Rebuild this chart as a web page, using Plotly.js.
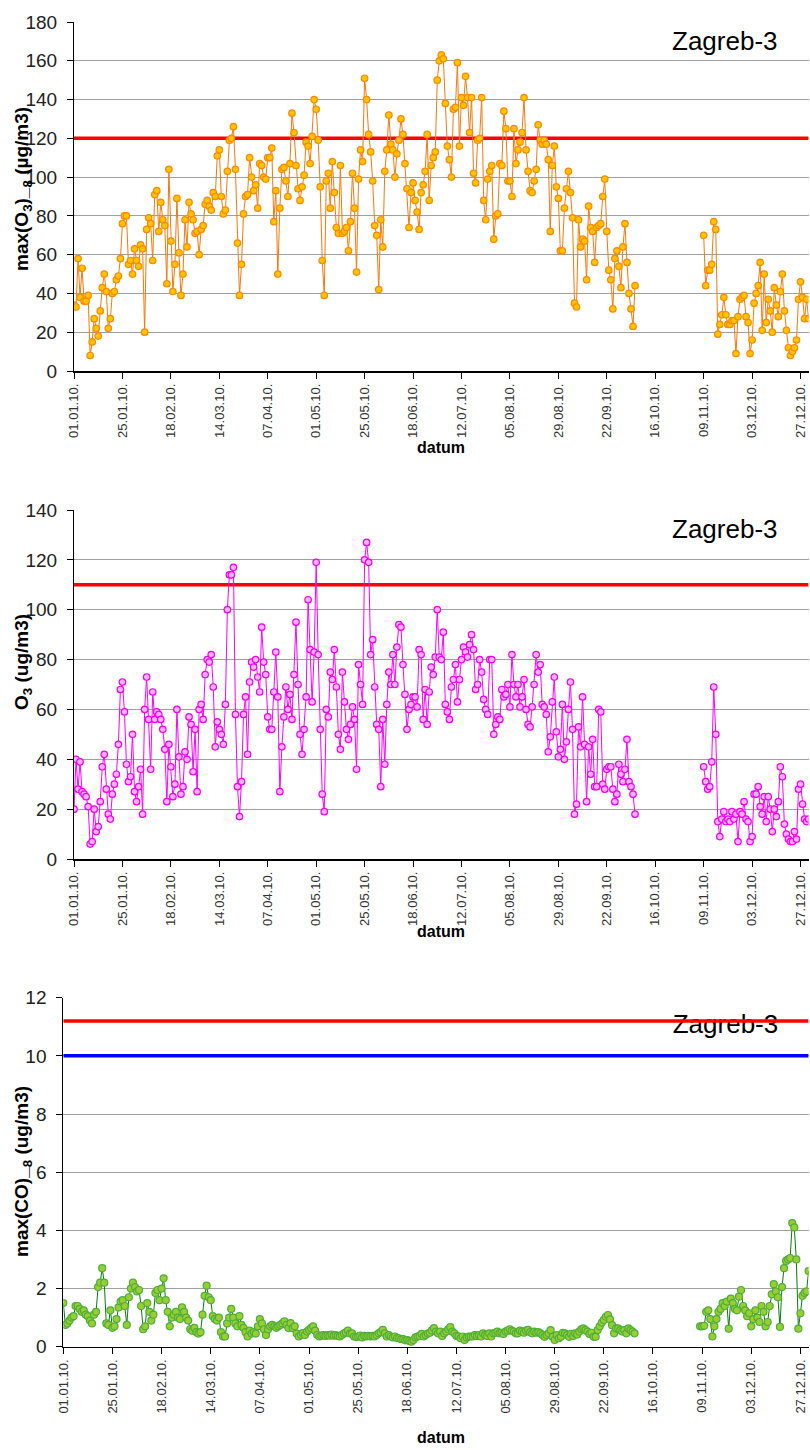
<!DOCTYPE html>
<html>
<head>
<meta charset="utf-8">
<script src="https://cdn.plot.ly/plotly-3.0.1.min.js"></script>
<style>
  html, body { margin: 0; padding: 0; background: #ffffff; }
  #chart { width: 810px; height: 1450px; }
</style>
</head>
<body>
<div id="chart"></div>
<script>
// ---------- DATA ----------
const tickLabels = ['01.01.10.', '25.01.10.', '18.02.10.', '14.03.10.', '07.04.10.', '01.05.10.',
  '25.05.10.', '18.06.10.', '12.07.10.', '05.08.10.', '29.08.10.', '22.09.10.', '16.10.10.',
  '09.11.10.', '03.12.10.', '27.12.10.'];
const tickDays = [0, 24, 48, 72, 96, 120, 144, 168, 192, 216, 240, 264, 288, 312, 336, 360];
const nDays = 365;
const station = 'Zagreb-3';

// max(O3)_8 : days 0..278, then gap, then days 312..364
const o3Max8Spring = [34,33,58,38,53,36,36,39,8,15,27,22,18,31,43,50,41,22,27,40,
  41,47,49,58,76,80,80,55,57,50,63,57,54,65,63,20,73,79,76,57,
  91,93,72,87,78,75,45,104,67,41,55,89,61,39,50,78,64,87,81,78,
  71,72,60,73,75,86,88,85,83,92,90,111,114,90,81,83,103,119,120,126,
  104,66,39,55,81,90,91,110,100,93,96,84,107,106,100,99,110,110,115,77,
  93,50,
  84,104,105,98,90,107,133,123,106,94,88,95,101,118,116,107,121,140,135];
const o3Max8Summer = [119,95,57,39,98,102,84,108,92,74,71,106,71,72,74,62,77,102,84,51,99,114,108,151,
  140,122,113,98,75,70,42,78,64,103,114,132,117,114,100,112,119,130,122,107,94,74,92,97,
  88,82,73,92,96,103,122,88,106,110,113,150,160,163,161,138,116,109,100,135,136,159,116,141,
  137,152,141,123,141,102,97,119,120,141,88,78,99,103,106,68,80,81,107,106,134,125,98,98,
  90,125,107,114,118,123,141,114,103,93,92,98,104,127,119,117,119,117,109,72,106,116,95,89,
  62,62,84,94,103,92,79,35,33,78,64,68,67,47,85,74,72,56,74,75,
  76,90,99,72,52,47,32,58,62,54,43,64,76,56,40,32,23,44];
const o3Max8Winter = [70,44,52,52,55,77,73,19,24,29,38,29,24,24,26,26,9,28,37,38,
  39,28,25,9,16,35,40,44,56,21,50,25,37,31,20,43,34,28,41,50,
  31,21,12,8,10,12,16,37,46,38,27,37,27];
const o3Max8Limit = 120;

// O3 daily : days 0..278, gap, days 312..364
const o3Spring = [20,40,28,39,27,26,25,21,6,7,20,11,13,23,37,42,28,18,16,26,
  30,34,46,68,71,59,38,31,33,50,27,23,29,36,18,60,73,56,36,67,
  56,59,58,56,52,44,23,46,37,25,30,60,41,26,29,43,40,57,54,35,
  52,27,60,62,56,74,80,79,82,69,45,55,52,50,46,62,100,114,114,117,
  58,29,17,31,58,65,42,71,79,77,80,73,67,93,79,74,57,52,52,67,
  83,65,27];
const o3Summer = [45,57,69,60,66,56,74,95,70,50,42,52,65,104,84,63,83,119,82,52,
  26,19,60,57,75,72,84,69,50,44,75,63,52,48,54,61,56,36,78,70,
  62,120,127,119,82,88,69,54,52,29,56,38,62,75,70,82,70,85,94,93,
  78,66,52,60,62,65,65,61,84,82,56,68,54,67,77,74,81,100,81,80,
  91,62,59,56,69,72,78,63,72,80,85,83,81,86,90,84,68,70,80,75,64,
  60,58,80,80,50,54,57,56,68,65,66,70,61,82,70,65,70,61,65,72,60,
  54,53,61,70,82,75,78,62,61,58,43,
  49,63,73,51,41,44,62,40,47,60,71,52,18,22,53,45,65,46,23,45,
  34,48,29,29,60,59,30,28,36,37,37,28,23,26,38,34,31,36,48,31,
  29,26,18];
const o3Winter = [37,31,28,29,39,69,50,15,9,16,19,15,16,15,19,16,18,7,19,18,
  23,16,15,7,9,26,26,29,21,18,25,15,25,20,11,20,17,23,37,33,
  14,10,8,7,7,11,8,28,30,22,16,15,16];
const o3Limit = 110;

// max(CO)_8 : days 0..279, gap, days 311..364
const coSpring = [1.5,0.75,0.8,0.9,1.0,1.05,1.4,1.4,1.3,1.2,1.25,1.1,1.05,0.9,0.8,1.1,1.2,2.05,2.2,2.7,
  2.2,0.8,0.75,1.25,0.65,0.7,0.95,1.35,1.55,1.6,1.4,0.75,1.7,2.0,2.2,2.05,1.9,1.95,1.4,0.6,
  0.7,1.5,1.2,0.9,1.1,1.85,1.95,1.6,2.0,2.35,1.6,1.2,0.7,1.0,1.1,1.2,1.0,0.95,1.35,1.2,
  1.0,0.9,0.6,0.55,0.65,0.5,0.45,0.5,1.1,1.75,2.1,1.7,1.6,1.05,0.95,0.9,1.0,0.5,0.35,0.35,
  0.8,1.0,1.3,1.0,0.8,0.7,1.05,0.75,0.65,0.5,0.35,0.55,0.45,0.5,0.45,0.7,0.95,0.8,0.6,0.4,
  0.6,0.7,0.75,0.7,0.65,0.7];
const coSummer = [0.75,0.8,0.87,0.75,0.64,0.81,0.64,0.7,0.45,0.35,
  0.41,0.47,0.4,0.52,0.58,0.64,0.7,0.55,0.41,0.35,
  0.38,0.4,0.37,0.4,0.38,0.42,0.38,0.4,0.37,0.35,
  0.4,0.45,0.49,0.55,0.45,0.46,0.35,0.33,0.35,0.38,
  0.32,0.37,0.35,0.37,0.35,0.37,0.35,0.4,0.46,0.5,
  0.58,0.46,0.35,0.4,0.35,0.32,0.35,0.3,0.29,0.26,
  0.26,0.22,0.23,0.2,0.17,0.23,0.32,0.35,0.37,0.44,
  0.35,0.4,0.45,0.48,0.56,0.64,0.52,0.46,0.52,0.37,
  0.46,0.52,0.6,0.67,0.52,0.46,0.37,0.35,0.29,0.35,
  0.23,0.32,0.35,0.35,0.35,0.4,0.37,0.4,0.35,0.46,
  0.4,0.37,0.46,0.35,0.46,0.48,0.52,0.46,0.48,0.44,
  0.52,0.55,0.6,0.55,0.52,0.46,0.46,0.55,0.52,0.48,
  0.55,0.58,0.5,0.46,0.52,0.48,0.5,0.46,0.4,0.34,
  0.4,0.46,0.57,0.34,0.23,0.4,0.29,0.34,0.48,0.46,
  0.4,0.34,0.44,0.37,0.46,0.42,0.52,0.6,0.63,0.57,
  0.52,0.44,0.48,0.34,0.34,0.57,0.7,0.83,0.92,1.03,
  1.09,0.94,0.74,0.46,0.63,0.63,0.57,0.52,0.57,0.46,
  0.63,0.57,0.52,0.46];
const coWinter = [0.7,0.7,0.72,1.2,1.25,0.95,0.35,0.7,0.95,1.2,
  1.3,1.5,1.4,1.55,0.62,1.65,1.5,1.3,1.25,1.72,
  1.95,1.4,1.25,1.05,1.15,0.7,0.95,1.25,1.0,0.85,
  1.4,1.2,0.7,0.85,1.4,1.8,2.15,1.9,1.7,0.68,
  2.05,2.7,2.95,3.0,3.05,4.25,4.1,3.0,0.62,1.15,
  1.75,1.85,1.9,2.6];
const coLimitRed = 11.2;
const coLimitBlue = 10;

// ---------- BUILD ----------
const days = Array.from({length: nDays}, (_, i) => i);
function season(first, middle, last) {
  const head = first.concat(middle);
  const gap = new Array(nDays - head.length - last.length).fill(null);
  return head.concat(gap, last);
}
const o3Max8 = season(o3Max8Spring, o3Max8Summer, o3Max8Winter);
const o3 = season(o3Spring, o3Summer, o3Winter);
const co = season(coSpring, coSummer, coWinter);
const span = [days[0], days[days.length - 1]];

const W = 810, H = 1450;
const FONT = 'Liberation Sans, Arial, sans-serif';
const px = v => v / W;
const py = v => 1 - v / H;

function limitTrace(xa, ya, value, color) {
  return { x: span, y: [value, value], xaxis: xa, yaxis: ya, mode: 'lines',
    line: { color: color, width: 3.5 }, hoverinfo: 'skip', showlegend: false };
}
function seriesTrace(xa, ya, y, lineColor, fill, edge, size) {
  return { x: days, y: y, xaxis: xa, yaxis: ya, mode: 'lines+markers', connectgaps: false,
    line: { color: lineColor, width: 1 },
    marker: { symbol: 'circle', size: size, color: fill, line: { color: edge, width: 1.2 } },
    showlegend: false };
}

// station label in the CO panel sits under the limit lines (drawn before them)
const coLabelPos = { day: 323.4, value: coLimitRed - 0.2 };

const traces = [
  limitTrace('x', 'y', o3Max8Limit, '#FF0000'),
  seriesTrace('x', 'y', o3Max8, '#F07A10', '#FFC400', '#FF8A00', 6.5),
  limitTrace('x2', 'y2', o3Limit, '#FF0000'),
  seriesTrace('x2', 'y2', o3, '#FF00FF', '#FFB0FF', '#F000F0', 6.5),
  { x: [coLabelPos.day], y: [coLabelPos.value], xaxis: 'x3', yaxis: 'y3', mode: 'text', text: [station],
    textposition: 'middle center', textfont: { family: FONT, size: 26, color: '#000000' },
    hoverinfo: 'skip', showlegend: false },
  limitTrace('x3', 'y3', coLimitRed, '#FF0000'),
  limitTrace('x3', 'y3', coLimitBlue, '#0000FF'),
  seriesTrace('x3', 'y3', co, '#0B7A0B', '#9ACD32', '#4CAF3A', 7)
];

function xAxis(left, anchor) {
  return { domain: [px(left), px(808.6)], anchor: anchor, range: [0, 364],
    tickmode: 'array', tickvals: tickDays, ticktext: tickLabels, tickangle: -90,
    tickfont: { family: FONT, size: 13, color: '#333333' },
    ticks: 'outside', ticklen: 6, tickcolor: '#000000', tickwidth: 1,
    showline: true, linecolor: '#000000', linewidth: 1.5,
    showgrid: false, zeroline: false, fixedrange: true };
}
function yAxis(top, bottom, anchor, max, step) {
  return { domain: [py(bottom), py(top)], anchor: anchor, range: [0, max], dtick: step, tick0: 0,
    tickfont: { family: FONT, size: 19, color: '#222222' },
    ticks: 'outside', ticklen: 6, tickcolor: '#000000', tickwidth: 1, ticklabelstandoff: 6,
    showline: true, linecolor: '#000000', linewidth: 1,
    showgrid: true, gridcolor: '#A0A0A0', gridwidth: 1, zeroline: false, fixedrange: true };
}

function yTitle(text, yc) {
  return { text: text, xref: 'paper', yref: 'paper', x: px(23), y: py(yc), textangle: -90,
    showarrow: false, xanchor: 'center', yanchor: 'middle',
    font: { family: FONT, size: 19, color: '#000000' } };
}
function xTitle(yc) {
  return { text: '<b>datum</b>', xref: 'paper', yref: 'paper', x: px(441), y: py(yc),
    showarrow: false, xanchor: 'center', yanchor: 'middle',
    font: { family: FONT, size: 16, color: '#000000' } };
}
function stationLabel(yc) {
  return { text: station, xref: 'paper', yref: 'paper', x: px(725), y: py(yc),
    showarrow: false, xanchor: 'center', yanchor: 'middle',
    font: { family: FONT, size: 26, color: '#000000' } };
}

const layout = {
  width: W, height: H,
  margin: { l: 0, r: 0, t: 0, b: 0 },
  paper_bgcolor: '#ffffff', plot_bgcolor: '#ffffff',
  showlegend: false,
  xaxis: xAxis(74, 'y'),
  yaxis: yAxis(22, 371, 'x', 180, 20),
  xaxis2: xAxis(74, 'y2'),
  yaxis2: yAxis(510, 859, 'x2', 140, 20),
  xaxis3: xAxis(63.3, 'y3'),
  yaxis3: yAxis(997.7, 1346.7, 'x3', 12, 2),
  annotations: [
    yTitle('<b>max(O<sub>3</sub>)_<sub>8</sub> (µg/m3)</b>', 189),
    yTitle('<b>O<sub>3</sub> (ug/m3)</b>', 662),
    yTitle('<b>max(CO)_<sub>8</sub> (ug/m3)</b>', 1172),
    xTitle(447), xTitle(931), xTitle(1437),
    stationLabel(41), stationLabel(529)
  ]
};

Plotly.newPlot('chart', traces, layout, { staticPlot: true, displayModeBar: false });
</script>
</body>
</html>
